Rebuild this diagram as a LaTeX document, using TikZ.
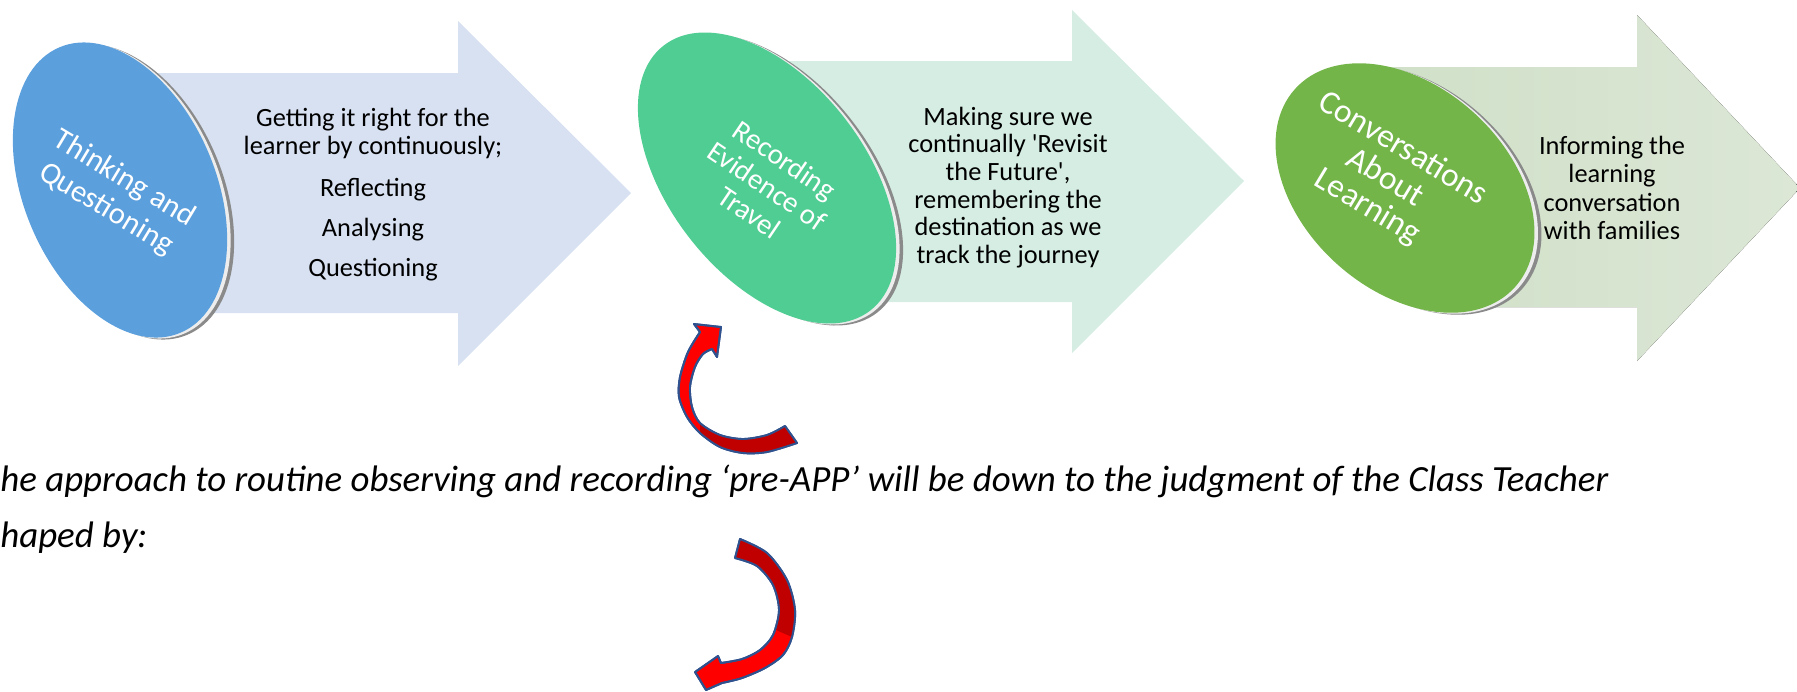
\documentclass[tikz,border=0pt]{standalone}
\usepackage{fontspec}
\setmainfont{Carlito}
\definecolor{arrA}{HTML}{D7E1F1}
\definecolor{arrB}{HTML}{D5EDE3}
\definecolor{arrCl}{HTML}{D0E0C8}
\definecolor{arrCr}{HTML}{DCE7D6}
\definecolor{discA}{HTML}{5B9FDD}
\definecolor{discB}{HTML}{4FCD93}
\definecolor{discC}{HTML}{74B54A}
\definecolor{rimdark}{HTML}{8A8A8A}
\definecolor{rimlight}{HTML}{EDEDED}
\definecolor{redA}{HTML}{FF0000}
\definecolor{redB}{HTML}{C00000}
\definecolor{edgeblue}{HTML}{2F528F}
\tikzset{
  disctext/.style={text=white, align=center, inner sep=0pt},
  arrline/.style={anchor=base, inner sep=0pt, font=\fontsize{15pt}{16.4pt}\selectfont},
  redarrow/.style={fill=redA, draw=edgeblue, line width=1.1pt, line join=round},
  redback/.style={fill=redB, draw=none},
  redline/.style={draw=edgeblue, line width=1.1pt, line join=round},
  note/.style={anchor=base west, inner sep=0pt, font=\fontsize{21pt}{28pt}\selectfont\itshape}
}
\begin{document}
\begin{tikzpicture}[x=0.02cm,y=-0.02cm]
\useasboundingbox (0,0) rectangle (1797,691);
% big arrows
\fill[arrA] (100,73) -- (458,73) -- (458,21) -- (631,193) -- (458,366) -- (458,313) -- (100,313) -- cycle;
\fill[arrB] (780,61) -- (1072,61) -- (1072,10) -- (1244,181) -- (1072,353) -- (1072,302) -- (780,302) -- cycle;
\fill[left color=arrCl, right color=arrCr] (1385,67) -- (1637,67) -- (1637,15) -- (1800,188) -- (1637,361) -- (1637,307) -- (1470,307) -- cycle;
% disc 1
\fill[rimdark, rotate around={23:(127,192)}] (127,192) ellipse [x radius=96, y radius=155];
\fill[rimlight, rotate around={23:(123.5,191)}] (123.5,191) ellipse [x radius=96, y radius=155];
\fill[discA, rotate around={23:(120,190)}] (120,190) ellipse [x radius=96, y radius=155];
% disc 2
\fill[rimdark, rotate around={38:(774,180)}] (774,180) ellipse [x radius=98, y radius=168];
\fill[rimlight, rotate around={38:(770.5,179)}] (770.5,179) ellipse [x radius=98, y radius=168];
\fill[discB, rotate around={38:(767,178)}] (767,178) ellipse [x radius=98, y radius=168];
% disc 3
\fill[rimdark, rotate around={48:(1412,190)}] (1412,190) ellipse [x radius=102, y radius=148];
\fill[rimlight, rotate around={48:(1408.5,189)}] (1408.5,189) ellipse [x radius=102, y radius=148];
\fill[discC, rotate around={48:(1405,188)}] (1405,188) ellipse [x radius=102, y radius=148];
% disc texts
\node[disctext, rotate=-31, font=\fontsize{17.5pt}{20pt}\selectfont] (d1) at (115,194) {Thinking and\\Questioning};
\node[disctext, rotate=-34, font=\fontsize{16.5pt}{18pt}\selectfont] (d2) at (767,186) {Recording\\Evidence of\\Travel};
\node[disctext, rotate=-31, font=\fontsize{19pt}{19.5pt}\selectfont] (d3) at (1385,178) {Conversations\\About\\Learning};
% arrow 1 text
\node[arrline] (t1a) at (373,126) {Getting it right for the};
\node[arrline] (t1b) at (373,154) {learner by continuously;};
\node[arrline] (t1c) at (373,196) {Reflecting};
\node[arrline] (t1d) at (373,236) {Analysing};
\node[arrline] (t1e) at (373,276) {Questioning};
% arrow 2 text
\node[arrline] (t2a) at (1008,125) {Making sure we};
\node[arrline] (t2b) at (1008,152.7) {continually \textquotesingle Revisit};
\node[arrline] (t2c) at (1008,180.4) {the Future\textquotesingle,};
\node[arrline] (t2d) at (1008,208.1) {remembering the};
\node[arrline] (t2e) at (1008,235.8) {destination as we};
\node[arrline] (t2f) at (1008,263.5) {track the journey};
% arrow 3 text
\node[arrline] (t3a) at (1612,154) {Informing the};
\node[arrline] (t3b) at (1612,182.5) {learning};
\node[arrline] (t3c) at (1612,211) {conversation};
\node[arrline] (t3d) at (1612,239.5) {with families};
% red curved arrow (up)
\fill[redarrow] (694,324) -- (721,327) -- (717,357) -- (712,349)
  -- plot[smooth] coordinates {(712,349) (703,354) (695,367) (690,387) (692,407) (700,423) (720,435) (743,439) (767,435) (785,426)}
  -- (797,443)
  -- plot[smooth] coordinates {(797,443) (767,452) (743,453) (720,447) (700,433) (687,417) (679,397) (680,377) (688,352) (700,332)}
  -- cycle;
\fill[redback] plot[smooth] coordinates {(700,423) (720,435) (743,439) (767,435) (785,426)}
  -- (797,443) -- plot[smooth] coordinates {(797,443) (767,452) (743,453) (720,447) (700,433)} -- cycle;
\draw[redline] (694,324) -- (721,327) -- (717,357) -- (712,349)
  -- plot[smooth] coordinates {(712,349) (703,354) (695,367) (690,387) (692,407) (700,423) (720,435) (743,439) (767,435) (785,426)}
  -- (797,443)
  -- plot[smooth] coordinates {(797,443) (767,452) (743,453) (720,447) (700,433) (687,417) (679,397) (680,377) (688,352) (700,332)}
  -- cycle;
% red curved arrow (down)
\fill[redarrow] (735,558) -- (740,539)
  -- plot[smooth] coordinates {(740,539) (767,553) (787,580) (795,610) (792,637) (783,655) (765,668) (742,678) (722,683)}
  -- (706,690) -- (695,672) -- (718,656) -- (721,663)
  -- plot[smooth] coordinates {(721,663) (742,659) (760,650) (773,635) (779,610) (773,585) (757,566) (735,558)}
  -- cycle;
\fill[redback] (735,558) -- (740,539)
  -- plot[smooth] coordinates {(740,539) (767,553) (787,580) (795,610) (792,637)}
  -- plot[smooth] coordinates {(776,630) (779,610) (773,585) (757,566) (735,558)} -- cycle;
\draw[redline] (735,558) -- (740,539)
  -- plot[smooth] coordinates {(740,539) (767,553) (787,580) (795,610) (792,637) (783,655) (765,668) (742,678) (722,683)}
  -- (706,690) -- (695,672) -- (718,656) -- (721,663)
  -- plot[smooth] coordinates {(721,663) (742,659) (760,650) (773,635) (779,610) (773,585) (757,566) (735,558)}
  -- cycle;
% bottom text
\node[note] (n1) at (0,491) {he approach to routine observing and recording ‘pre-APP’ will be down to the judgment of the Class Teacher};
\node[note] (n2) at (0,547) {haped by:};
\end{tikzpicture}
\end{document}
